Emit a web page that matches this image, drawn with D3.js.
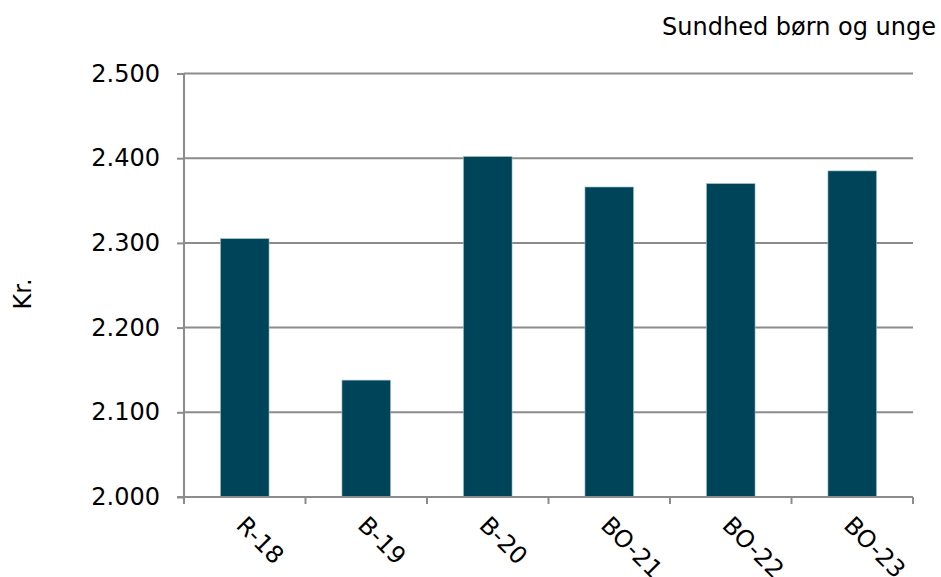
<!DOCTYPE html>
<html>
<head>
<meta charset="utf-8">
<script src="https://cdn.jsdelivr.net/npm/d3@7"></script>
<style>
  body { margin: 0; background: #fff; }
  text { font-family: "DejaVu Sans", Verdana, sans-serif; fill: #000; }
</style>
</head>
<body>
<script>
var categories = ['R-18', 'B-19', 'B-20', 'BO-21', 'BO-22', 'BO-23'];
var values = [2305, 2138, 2402, 2366, 2370, 2385];
var yTicks = [2000, 2100, 2200, 2300, 2400, 2500];
var title = 'Sundhed børn og unge';
var yTitle = 'Kr.';

var Chart = {

  width: 941,
  height: 577,
  margin: { top: 73.5, right: 28, bottom: 80, left: 184 },
  gridColor: '#8c8c8c',
  barColor: '#00445a',
  fontSize: '24px',

  init: function () {

    var m = this.margin;
    var innerW = this.width - m.left - m.right;
    var innerH = this.height - m.top - m.bottom;
    var fs = this.fontSize;

    var svg = d3.select('body').append('svg')
      .attr('width', this.width)
      .attr('height', this.height);

    var x = d3.scaleBand()
      .domain(categories)
      .range([0, innerW])
      .paddingInner(0.6)
      .paddingOuter(0.3);

    var y = d3.scaleLinear()
      .domain([2000, 2500])
      .range([innerH, 0]);

    var g = svg.append('g')
      .attr('transform', 'translate(' + m.left + ',' + m.top + ')');

    // gridlines
    g.selectAll('line.grid')
      .data(yTicks.slice(1))
      .enter().append('line')
      .attr('class', 'grid')
      .attr('x1', 0).attr('x2', innerW)
      .attr('y1', function (d) { return y(d); })
      .attr('y2', function (d) { return y(d); })
      .style('stroke', this.gridColor)
      .style('stroke-width', 2);

    // bars
    g.selectAll('rect.bar')
      .data(values)
      .enter().append('rect')
      .attr('class', 'bar')
      .attr('x', function (d, i) { return x(categories[i]); })
      .attr('width', x.bandwidth())
      .attr('y', function (d) { return y(d); })
      .attr('height', function (d) { return innerH - y(d); })
      .style('fill', this.barColor)
      .style('stroke', '#9fc2cf')
      .style('stroke-width', 0.6);

    // y axis
    var yAxis = d3.axisLeft(y)
      .tickValues(yTicks)
      .tickSize(7)
      .tickPadding(17)
      .tickFormat(function (d) { return d3.format(',')(d).replace(',', '.'); });

    var ya = g.append('g').call(yAxis);
    ya.select('.domain').remove();
    ya.selectAll('line').style('stroke', this.gridColor).style('stroke-width', 2);
    ya.selectAll('text')
      .style('font-size', fs)
      .style('font-family', '"DejaVu Sans", Verdana, sans-serif');

    g.append('line')
      .attr('x1', 0).attr('x2', 0)
      .attr('y1', 0).attr('y2', innerH + 7)
      .style('stroke', this.gridColor)
      .style('stroke-width', 2);

    // x axis line and boundary ticks
    g.append('line')
      .attr('x1', -7).attr('x2', innerW)
      .attr('y1', innerH).attr('y2', innerH)
      .style('stroke', this.gridColor)
      .style('stroke-width', 2);

    var step = x.step();
    g.selectAll('line.xtick')
      .data(d3.range(1, categories.length + 1))
      .enter().append('line')
      .attr('class', 'xtick')
      .attr('x1', function (d) { return d * step; })
      .attr('x2', function (d) { return d * step; })
      .attr('y1', innerH).attr('y2', innerH + 7)
      .style('stroke', this.gridColor)
      .style('stroke-width', 2);

    // rotated category labels
    g.selectAll('text.xlab')
      .data(categories)
      .enter().append('text')
      .attr('class', 'xlab')
      .attr('transform', function (d) {
        var cx = x(d) + x.bandwidth() / 2;
        return 'translate(' + (cx + 3) + ',' + (innerH + 17) + ') rotate(45)';
      })
      .attr('dy', '0.75em')
      .style('font-size', fs)
      .text(function (d) { return d; });

    // y title
    svg.append('text')
      .attr('transform', 'translate(31,294) rotate(-90)')
      .attr('text-anchor', 'middle')
      .style('font-size', fs)
      .text(yTitle);

    // chart title
    svg.append('text')
      .attr('x', 936)
      .attr('y', 35)
      .attr('text-anchor', 'end')
      .style('font-size', fs)
      .text(title);
  }
};

Chart.init();
</script>
</body>
</html>
